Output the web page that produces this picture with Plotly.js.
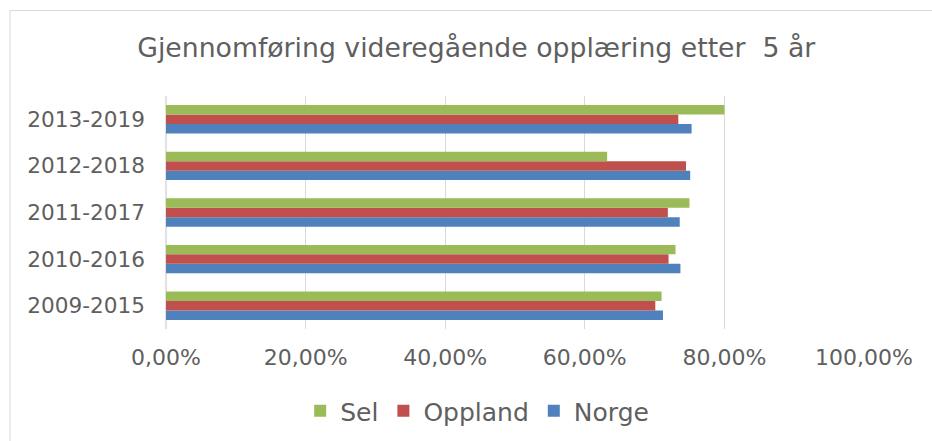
<!DOCTYPE html>
<html>
<head>
<meta charset="utf-8">
<script src="https://cdn.plot.ly/plotly-3.0.1.min.js"></script>
<style>html,body{margin:0;padding:0;background:#fff;}#chart{width:932px;height:441px;}</style>
</head>
<body>
<div id="chart"></div>
<script>
const categories = ['2009-2015', '2010-2016', '2011-2017', '2012-2018', '2013-2019'];
const sel = [0.710, 0.730, 0.750, 0.632, 0.800];
const oppland = [0.701, 0.720, 0.719, 0.745, 0.734];
const norge = [0.712, 0.737, 0.736, 0.751, 0.753];
const tickVals = [0, 0.2, 0.4, 0.6, 0.8, 1.0];

const font = {family: 'DejaVu Sans, Verdana, sans-serif', color: '#5f5f5f'};

const traces = [
  {name: 'Norge', y: categories, x: norge, color: '#4F81BD'},
  {name: 'Oppland', y: categories, x: oppland, color: '#C0504D'},
  {name: 'Sel', y: categories, x: sel, color: '#9BBB59'}
].map(t => ({
  type: 'bar', orientation: 'h', name: t.name, x: t.x, y: t.y,
  marker: {color: t.color, line: {width: 0}},
  hoverinfo: 'x+y+name'
}));

const layout = {
  width: 932, height: 441,
  margin: {l: 166, r: 68, t: 96, b: 112},
  paper_bgcolor: '#ffffff', plot_bgcolor: '#ffffff',
  font: Object.assign({size: 21}, font),
  separators: ', ',
  barmode: 'group',
  bargap: 0.39,
  bargroupgap: 0,
  title: {
    text: 'Gjennomføring videregående opplæring etter\u00a0\u00a05 år',
    font: Object.assign({size: 26.7}, font),
    xref: 'container', x: 0.511, xanchor: 'center',
    yref: 'container', y: 0.893, yanchor: 'middle'
  },
  xaxis: {
    range: [0, 1], tickvals: tickVals, tickformat: '.2%',
    showgrid: true, gridcolor: '#d9d9d9', gridwidth: 1,
    zeroline: false, showline: false, ticks: '',
    ticklabelstandoff: 13,
    tickfont: Object.assign({size: 22}, font), fixedrange: true
  },
  yaxis: {
    type: 'category', categoryorder: 'array', categoryarray: categories,
    showgrid: false, zeroline: false, ticks: '',
    showline: false,
    ticklabelstandoff: 20,
    tickfont: Object.assign({size: 21.6}, font), fixedrange: true
  },
  showlegend: true,
  legend: {
    orientation: 'h', traceorder: 'reversed',
    xref: 'container', x: 0.512, xanchor: 'center',
    yref: 'container', y: 0.068, yanchor: 'middle',
    font: Object.assign({size: 25}, font),
    bgcolor: 'rgba(0,0,0,0)'
  },
  shapes: [
    {type: 'line', xref: 'paper', yref: 'paper', x0: 0, x1: 0, y0: 0, y1: 1,
     line: {color: '#d9d9d9', width: 1.5}, layer: 'below'},
    {type: 'line', xref: 'paper', yref: 'paper', x0: -0.2235, x1: 1.12, y0: 1.367, y1: 1.367,
     line: {color: '#d9d9d9', width: 1}},
    {type: 'line', xref: 'paper', yref: 'paper', x0: -0.2235, x1: -0.2235, y0: 1.367, y1: -0.52,
     line: {color: '#d9d9d9', width: 1}}
  ]
};

Plotly.newPlot('chart', traces, layout, {displayModeBar: false, staticPlot: true});
</script>
</body>
</html>
